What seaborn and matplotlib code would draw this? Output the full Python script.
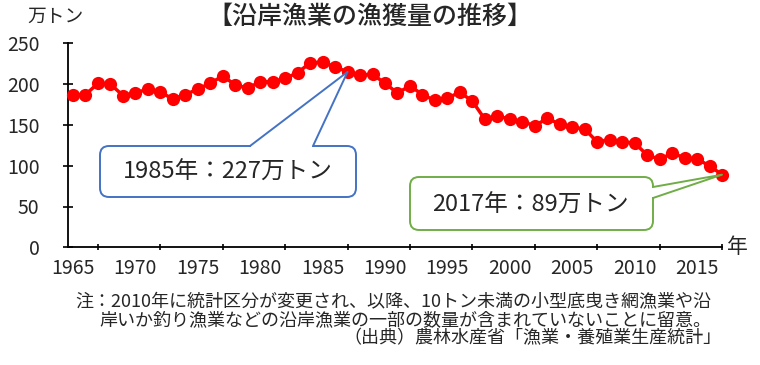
import numpy as np
import pandas as pd
import matplotlib
matplotlib.use('Agg')
import matplotlib.pyplot as plt
import matplotlib.transforms as mtransforms
from matplotlib.patches import FancyBboxPatch, Polygon, Rectangle
import seaborn as sns

# データ（万トン）
years = np.arange(1965, 2018)
catch = [187, 187, 201, 200, 186, 189, 194, 190, 182, 187,
         194, 201, 210, 199, 195, 203, 203, 207, 214, 226,
         227, 221, 215, 211, 212, 201, 189, 198, 187, 180,
         183, 190, 179, 157, 161, 157, 154, 149, 158, 151,
         147, 145, 129, 132, 129, 128, 113, 108, 115, 110,
         108, 100, 89]
xtick_labels = ['1965', '1970', '1975', '1980', '1985', '1990',
                '1995', '2000', '2005', '2010', '2015']
ytick_values = [0, 50, 100, 150, 200, 250]

title = '【沿岸漁業の漁獲量の推移】'
unit_label = '万トン'
year_label = '年'
note_lines = ['注：2010年に統計区分が変更され、以降、10トン未満の小型底曳き網漁業や沿',
              '岸いか釣り漁業などの沿岸漁業の一部の数量が含まれていないことに留意。',
              '（出典）農林水産省「漁業・養殖業生産統計」']
callout_peak = '1985年：227万トン'
callout_last = '2017年：89万トン'
peak_pointer_year = 1987   # 吹き出しの先端が指している点
last_pointer_year = 2017

df = pd.DataFrame({'year': years, 'catch': catch})

sns.set_style('white')
plt.rcParams['font.family'] = ['Noto Sans CJK JP', 'DejaVu Sans']

W, H = 760, 365
fig = plt.figure(figsize=(W / 100, H / 100), dpi=100)
ax = fig.add_axes([68 / W, (H - 247.3) / H, 654 / W, 204 / H])

sns.lineplot(data=df, x='year', y='catch', ax=ax, color='#ff0000',
             linewidth=2.5, marker='o', markersize=9.5, markeredgewidth=0,
             clip_on=False, zorder=3)

ax.set_xlim(1964.6, 2017)
ax.set_ylim(0, 250)
ax.set_xlabel('')
ax.set_ylabel('')

# 目盛り
ax.set_yticks(ytick_values)
ax.tick_params(axis='y', left=True, direction='inout', length=7, width=1.2,
               labelsize=14, pad=17, color='black')
ax.set_xticks([int(s) for s in xtick_labels])
ax.set_xticklabels(xtick_labels)
ax.set_xticks([int(s) + 2 for s in xtick_labels], minor=True)
ax.tick_params(axis='x', which='major', bottom=True, length=0, labelsize=14, pad=8)
ax.tick_params(axis='x', which='minor', bottom=True, direction='inout', length=5,
               width=1.2, color='black')

sns.despine(ax=ax)
for side in ['left', 'bottom']:
    ax.spines[side].set_color('black')
    ax.spines[side].set_linewidth(1.3)

# テキスト
fig.text(370 / W, 1 - 17 / H, title, ha='center', va='center', fontsize=18,
         fontweight='medium')
fig.text(55 / W, 1 - 16 / H, unit_label, ha='center', va='center', fontsize=13.5)
ax.text(1.008, 0, year_label, transform=ax.transAxes, ha='left', va='center',
        fontsize=15)
fig.text(75 / W, 1 - 302 / H, note_lines[0], ha='left', va='center', fontsize=13)
fig.text(99 / W, 1 - 320 / H, note_lines[1], ha='left', va='center', fontsize=13)
fig.text(722 / W, 1 - 338 / H, note_lines[2], ha='right', va='center', fontsize=13)

# 吹き出し（ピクセル座標, 上が0）
px = mtransforms.Affine2D().scale(1, -1).translate(0, H)


def to_px(x, y):
    dx, dy = ax.transData.transform((x, y))
    return dx, H - dy


def callout(box, base, cover, tip, color, text, text_xy):
    x0, y0, x1, y1 = box
    fig.patches.append(FancyBboxPatch((x0, y0), x1 - x0, y1 - y0,
                                      boxstyle='round,pad=0,rounding_size=9',
                                      transform=px, fc='white', ec=color,
                                      lw=1.4, zorder=5))
    fig.patches.append(Rectangle(cover[:2], cover[2], cover[3], transform=px,
                                 fc='white', ec='none', zorder=6))
    fig.patches.append(Polygon([base[0], tip, base[1]], closed=True,
                               transform=px, fc='white', ec='none', zorder=6))
    fig.lines.append(plt.Line2D([base[0][0], tip[0], base[1][0]],
                                [base[0][1], tip[1], base[1][1]],
                                transform=px, color=color, lw=1.4, zorder=7))
    fig.text(text_xy[0] / W, 1 - text_xy[1] / H, text, ha='center',
             va='center', fontsize=17, zorder=8)


i_peak = list(years).index(peak_pointer_year)
i_last = list(years).index(last_pointer_year)
tip1 = to_px(years[i_peak], catch[i_peak])
tip2 = to_px(years[i_last], catch[i_last])

callout((100, 146, 356, 197), [(250, 146), (313, 146)], (251, 143, 61, 6),
        tip1, '#4472C4', callout_peak, (228, 172))
callout((410, 177, 653, 230), [(653, 187), (653, 198)], (650, 188, 6, 9),
        tip2, '#70AD47', callout_last, (530, 205))

fig.savefig('out.png', dpi=100)
plt.close(fig)
